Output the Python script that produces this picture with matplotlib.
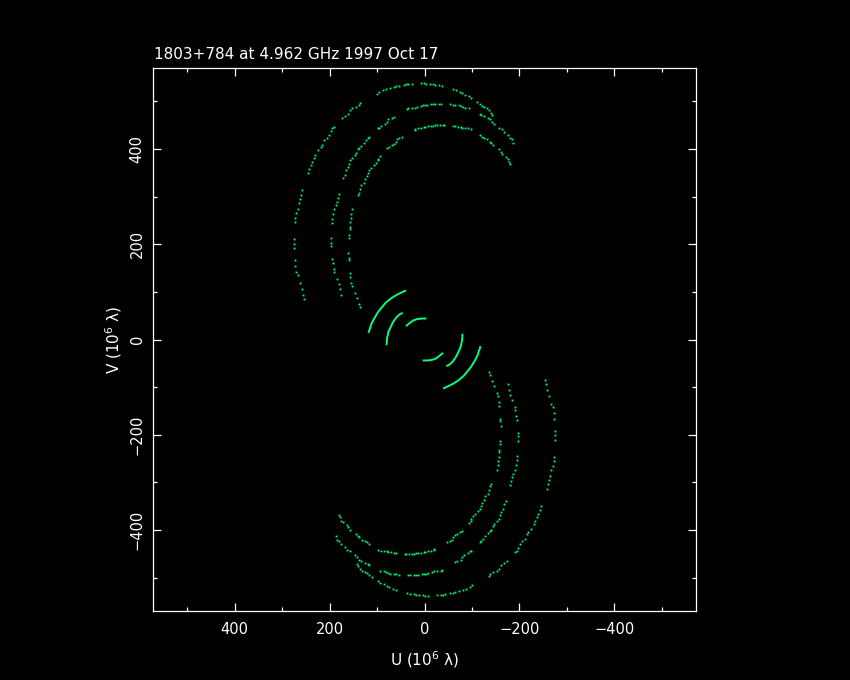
import matplotlib
matplotlib.use("Agg")
import matplotlib.pyplot as plt
from matplotlib.ticker import MultipleLocator

# ---- data (lower half tracks; upper half = conjugate points) ----
# space-ground track, inner
inner_u = [181, 179, 175, 171, 164, 162, 156,
           145, 141, 137, 131, 126, 122, 116,
           97, 91, 86, 80, 76, 70, 65, 61,
           42, 38, 32, 27, 23, 17, 13, 8, 2, -2, -8, -13, -19, -21,
           -48, -53, -57, -61, -65, -69, -74, -78,
           -93, -97, -99, -103, -107, -112, -116, -118, -122, -126, -128, -133, -135, -139, -141,
           -152, -154, -154, -156, -158, -158, -160, -160,
           -160, -160, -162,
           -158, -156, -154, -152, -147, -143, -139, -135]
inner_v = [-369, -373, -380, -384, -390, -394, -399,
           -409, -413, -415, -420, -424, -426, -430,
           -441, -443, -443, -445, -447, -447, -449, -449,
           -451, -451, -451, -451, -451, -449, -449, -449, -447, -447, -445, -443, -441, -439,
           -426, -422, -420, -415, -411, -408, -405, -401,
           -386, -380, -376, -370, -366, -361, -355, -350, -344, -336, -329, -325, -317, -308, -304,
           -273, -264, -256, -247, -237, -231, -220, -214,
           -166, -172, -182,
           -140, -132, -119, -113, -98, -88, -75, -68]

# space-ground track, middle
middle_u = [187, 185, 181, 175, 168, 164, 158,
            147, 143, 137, 133, 126, 120, 116,
            93, 86, 82, 76, 72, 65, 59, 53,
            34, 30, 23, 17, 13, 6, 2, -4, -8, -15, -21, -27, -34, -36,
            -65, -69, -76, -80, -84, -91, -95, -99,
            -116, -120, -124, -128, -133, -137, -141, -145, -147, -152, -156, -160, -162, -166, -168, -171,
            -181, -183, -185, -187, -190, -192, -194, -194,
            -196, -196, -196,
            -194, -192, -190, -190, -185, -181, -177, -175]
middle_v = [-413, -420, -424, -430, -436, -441, -445,
            -453, -457, -462, -466, -470, -472, -474,
            -485, -487, -489, -491, -493, -493, -493, -495,
            -495, -495, -495, -495, -495, -493, -493, -493, -491, -489, -487, -487, -485, -483,
            -468, -466, -462, -457, -453, -449, -445, -443,
            -426, -422, -418, -413, -407, -403, -399, -392, -388, -382, -376, -369, -363, -355, -346, -340,
            -306, -298, -289, -283, -273, -264, -254, -245,
            -214, -203, -197,
            -170, -161, -149, -142, -128, -117, -105, -94]

# space-ground track, outer
outer_u = [143, 141, 135, 131, 126, 122, 116, 110,
           99, 93, 86, 80, 74, 67, 61,
           36, 30, 23, 17, 11, 4, -2, -8,
           -27, -34, -40, -44, -53, -59, -65, -72, -82, -88, -95, -101,
           -135, -139, -145, -152, -156, -162, -168, -173,
           -190, -194, -198, -202, -206, -211, -217, -219, -225, -230, -232, -236, -240, -244, -246,
           -259, -261, -263, -265, -267, -270, -272, -272,
           -274, -274, -274,
           -272, -272, -270, -267, -263, -259, -257, -253]
outer_v = [-472, -476, -481, -485, -489, -491, -495, -499,
           -508, -512, -514, -518, -520, -523, -525,
           -533, -535, -535, -537, -537, -537, -539, -539,
           -537, -537, -537, -535, -533, -533, -531, -529, -525, -523, -520, -516,
           -497, -493, -489, -485, -481, -474, -470, -466,
           -447, -443, -438, -430, -424, -418, -409, -405, -397, -388, -382, -373, -367, -357, -350,
           -313, -304, -296, -287, -275, -266, -256, -247,
           -212, -201, -193,
           -166, -155, -142, -136, -119, -107, -94, -84]

# ground-ground tracks (upper-left halves; conjugates plotted too)
g1_u = [118, 115, 111, 106, 99, 92, 82, 71, 60, 50, 39]
g1_v = [14, 23, 35, 44, 56, 65, 77, 86, 93, 98, 103]
g2_u = [80, 79, 76, 71, 66, 59, 52, 46]
g2_v = [-12, 2, 16, 27, 37, 47, 53, 56]
g3_u = [39, 32, 24, 15, 6, -4]
g3_v = [28, 34, 40, 43, 44, 44]

title = "1803+784 at 4.962 GHz 1997 Oct 17"
x_ticks = [400, 200, 0, -200, -400]
y_ticks = [-400, -200, 0, 200, 400]

GREEN = "#00ff7f"

fig = plt.figure(figsize=(8.5, 6.8), dpi=100, facecolor="black")
ax = fig.add_axes([153 / 850, 69 / 680, 543 / 850, 543 / 680], facecolor="black")

for us, vs in [(inner_u, inner_v), (middle_u, middle_v), (outer_u, outer_v)]:
    ax.plot(us, vs, ls="none", marker="s", ms=1.3, mew=0, color=GREEN)
    ax.plot([-a for a in us], [-b for b in vs], ls="none", marker="s", ms=1.3, mew=0, color=GREEN)

for us, vs in [(g1_u, g1_v), (g2_u, g2_v), (g3_u, g3_v)]:
    ax.plot(us, vs, "-", lw=1.4, color=GREEN, solid_capstyle="butt")
    ax.plot([-a for a in us], [-b for b in vs], "-", lw=1.4, color=GREEN, solid_capstyle="butt")

ax.set_xlim(572, -572)
ax.set_ylim(-570, 570)
ax.set_xticks(x_ticks)
ax.set_yticks(y_ticks)
ax.xaxis.set_minor_locator(MultipleLocator(100))
ax.yaxis.set_minor_locator(MultipleLocator(100))
ax.tick_params(which="both", direction="in", colors="white", top=True, right=True,
               labelsize=10.5)
ax.tick_params(axis="x", which="major", pad=8)
ax.tick_params(axis="y", which="major", pad=6)
ax.tick_params(which="major", length=6, width=0.9)
ax.tick_params(which="minor", length=3, width=0.9)
for lab in ax.get_yticklabels():
    lab.set_rotation(90)
    lab.set_va("center")
for s in ax.spines.values():
    s.set_color("white")
    s.set_linewidth(0.9)

ax.set_xlabel("U (10$^6$ λ)", color="white", fontsize=11, labelpad=9)
ax.set_ylabel("V (10$^6$ λ)", color="white", fontsize=11, labelpad=4)

fig.text(153.5 / 850, 1 - 58.6 / 680, title, color="white", fontsize=11,
         ha="left", va="baseline")

fig.savefig("out.png", dpi=100, facecolor="black")
